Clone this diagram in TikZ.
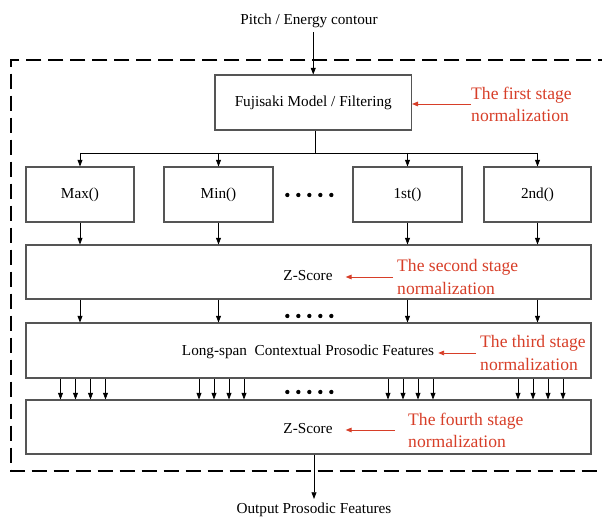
\documentclass[tikz,border=0pt]{standalone}
\usepackage{fontspec}
\setmainfont{Liberation Serif}
\usetikzlibrary{arrows.meta,positioning}
\definecolor{notered}{RGB}{215,62,40}
\definecolor{boxgray}{RGB}{85,85,85}

\begin{document}
\begin{tikzpicture}[every node/.style={font=\fontsize{13}{15}\selectfont},
  procbox/.style={draw=boxgray,line width=.9pt,minimum height=1.65cm,inner sep=0pt},
  flow/.style={line width=.7pt,-{Triangle[length=0.2cm,width=0.15cm]}},
  notetext/.style={text=notered,anchor=west,align=left,inner sep=0pt,font=\fontsize{15}{18.8}\selectfont},
  notearrow/.style={draw=notered,line width=.8pt,-{Triangle[length=0.18cm,width=0.14cm]}}]
\useasboundingbox (0,0) rectangle (18.06,15.54);
% outer dashed frame
\draw[line width=1.4pt,dash pattern=on 0.45cm off 0.21cm] (18.4,13.74) -- (0.33,13.74) -- (0.33,1.41) -- (18.4,1.41);
% input / output
\node (pitch) at (9.27,14.91) {Pitch / Energy contour};
\node (outp) at (9.42,0.24) {Output Prosodic Features};
% first stage
\node[procbox,minimum width=5.895cm] (fuji) at (9.3975,12.465) {Fujisaki Model / Filtering};
\coordinate (split) at (9.45,10.95);
% feature boxes
\node[procbox,minimum width=3.24cm] (fmax) at (2.40,9.705) {Max()};
\node[procbox,minimum width=3.27cm] (fmin) at (6.555,9.705) {Min()};
\node[procbox,minimum width=3.27cm] (f1st) at (12.225,9.705) {1st()};
\node[procbox,minimum width=3.21cm] (f2nd) at (16.125,9.705) {2nd()};
% wide boxes
\node[procbox,minimum width=16.95cm,minimum height=1.62cm] (zs1) at (9.255,7.38) {};
\node (zs1lab) at (9.24,7.26) {Z-Score};
\node[procbox,minimum width=16.95cm] (ctx) at (9.255,5.025) {};
\node (ctxlab) at (9.24,4.98) {Long-span\ \ Contextual Prosodic Features};
\node[procbox,minimum width=16.95cm,minimum height=1.62cm] (zs2) at (9.255,2.73) {};
\node (zs2lab) at (9.24,2.67) {Z-Score};
% connectors
\draw[flow] (pitch.south -| fuji.north) -- (fuji.north);
\draw[line width=.7pt] (fuji.south -| split) -- (split);
\draw[line width=.7pt] (fmax.north |- split) -- (f2nd.north |- split);
\foreach \b in {fmax,fmin,f1st,f2nd}{
  \draw[flow] (\b.north |- split) -- (\b.north);
  \draw[flow] (\b.south) -- (\b.south |- zs1.north);
  \draw[flow] (\b.south |- zs1.south) -- (\b.south |- ctx.north);
  \foreach \d in {-0.585,-0.135,0.315,0.765}
    \draw[flow] ([xshift=\d cm]\b.south |- ctx.south) -- ([xshift=\d cm]\b.south |- zs2.north);
}
\draw[flow] (zs2.south -| outp.north) -- (outp.north);
% dots
\foreach \y in {9.69,6.06,3.78}
  \foreach \k in {0,...,4}
    \fill (8.62+\k*0.33,\y) circle (0.065);
% normalization notes
\node[notetext] (note1) at (14.13,12.42) {The first stage\\normalization};
\node[notetext] (note2) at (11.91,7.23) {The second stage\\normalization};
\node[notetext] (note3) at (14.40,4.95) {The third stage\\normalization};
\node[notetext] (note4) at (12.24,2.64) {The fourth stage\\normalization};
\draw[notearrow] (note1.west) -- (note1.west -| fuji.east);
\draw[notearrow,shorten <=0.12cm,shorten >=0.27cm] (note2.west) -- (note2.west -| zs1lab.east);
\draw[notearrow,shorten <=0.12cm] (note3.west) -- (note3.west -| ctxlab.east);
\draw[notearrow,shorten <=0.39cm,shorten >=0.27cm] (note4.west) -- (note4.west -| zs2lab.east);
\end{tikzpicture}
\end{document}
